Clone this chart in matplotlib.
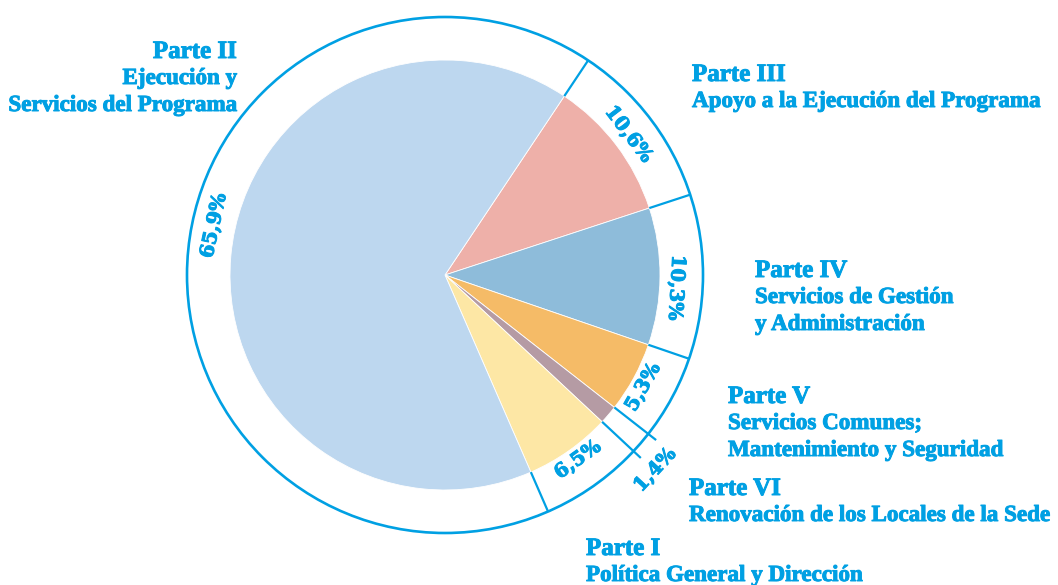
import matplotlib
matplotlib.use("Agg")
import matplotlib.pyplot as plt
import matplotlib.patheffects as pe
import numpy as np
from matplotlib.patches import Circle

# ---- data ----
parts = ["Parte III", "Parte IV", "Parte V", "Parte VI", "Parte I", "Parte II"]
descriptions = [
    "Apoyo a la Ejecución del Programa",
    "Servicios de Gestión\ny Administración",
    "Servicios Comunes;\nMantenimiento y Seguridad",
    "Renovación de los Locales de la Sede",
    "Política General y Dirección",
    "Ejecución y\nServicios del Programa",
]
shares = [10.6, 10.3, 5.3, 1.4, 6.5, 65.9]
pct_labels = ["10,6%", "10,3%", "5,3%", "1,4%", "6,5%", "65,9%"]

# ---- styling ----
colors = ["#eeb0a9", "#8ebcda", "#f5bb67", "#b59ba4", "#fde7a5", "#bdd7ef"]
TXT = "#00a0e3"
FONT = "Liberation Serif"
thick = [pe.withStroke(linewidth=0.7, foreground=TXT)]

W, H = 1058, 585
cx, cy = 445, H - 275
r_in, r_out = 215, 258
start = 56.3

fig = plt.figure(figsize=(W / 100, H / 100), dpi=100)
ax = fig.add_axes([0, 0, 1, 1])

ax.pie(shares, colors=colors, startangle=start, counterclock=False,
       center=(cx, cy), radius=r_in,
       wedgeprops=dict(edgecolor="white", linewidth=0.6))

ax.add_patch(Circle((cx, cy), r_out, fill=False, edgecolor=TXT, linewidth=1.9))

# boundaries
cum = np.concatenate([[0], np.cumsum(shares)])
bounds = start - 360 * cum / 100.0
long_idx = {3, 4}  # boundaries around Parte VI stick out
for i in range(len(shares)):
    a = np.deg2rad(bounds[i])
    r2 = 268 if i in long_idx else r_out
    ax.plot([cx + r_in * np.cos(a), cx + r2 * np.cos(a)],
            [cy + r_in * np.sin(a), cy + r2 * np.sin(a)],
            color=TXT, linewidth=1.6, solid_capstyle="butt")

# percentage labels (layout: angle offset, radius, reading direction)
mids = (bounds[:-1] + bounds[1:]) / 2
offsets = [0.2, -2.8, -1.0, -2.3, 0.5, -7.0]
radii = [231, 231, 228, 287, 228, 236]
flip = [False, False, True, True, True, False]
for lab, m, off, rr, fl in zip(pct_labels, mids, offsets, radii, flip):
    ang = m + off
    a = np.deg2rad(ang)
    rot = ang + 90 if fl else ang - 90
    ax.text(cx + rr * np.cos(a), cy + rr * np.sin(a), lab,
            rotation=rot, rotation_mode="anchor", ha="center", va="center",
            color=TXT, fontsize=14, fontweight="bold", family="DejaVu Serif",
            path_effects=thick)

# part labels: (x, y of first baseline, alignment)
label_pos = [
    (692, 81, "left"),
    (755, 277, "left"),
    (728, 403, "left"),
    (689, 495, "left"),
    (586, 555, "left"),
    (237, 58, "right"),
]
for p, d, (x, yb, ha) in zip(parts, descriptions, label_pos):
    ax.text(x, H - yb, p, ha=ha, va="baseline", color=TXT,
            fontsize=18, fontweight="bold", family=FONT, path_effects=thick)
    for k, line in enumerate(d.split("\n")):
        ax.text(x, H - (yb + 26 + 27 * k), line, ha=ha, va="baseline",
                color=TXT, fontsize=16.6, fontweight="bold", family=FONT,
                path_effects=thick)

ax.set_xlim(0, W)
ax.set_ylim(0, H)
ax.set_aspect("equal")
ax.axis("off")

fig.savefig("out.png", dpi=100)
